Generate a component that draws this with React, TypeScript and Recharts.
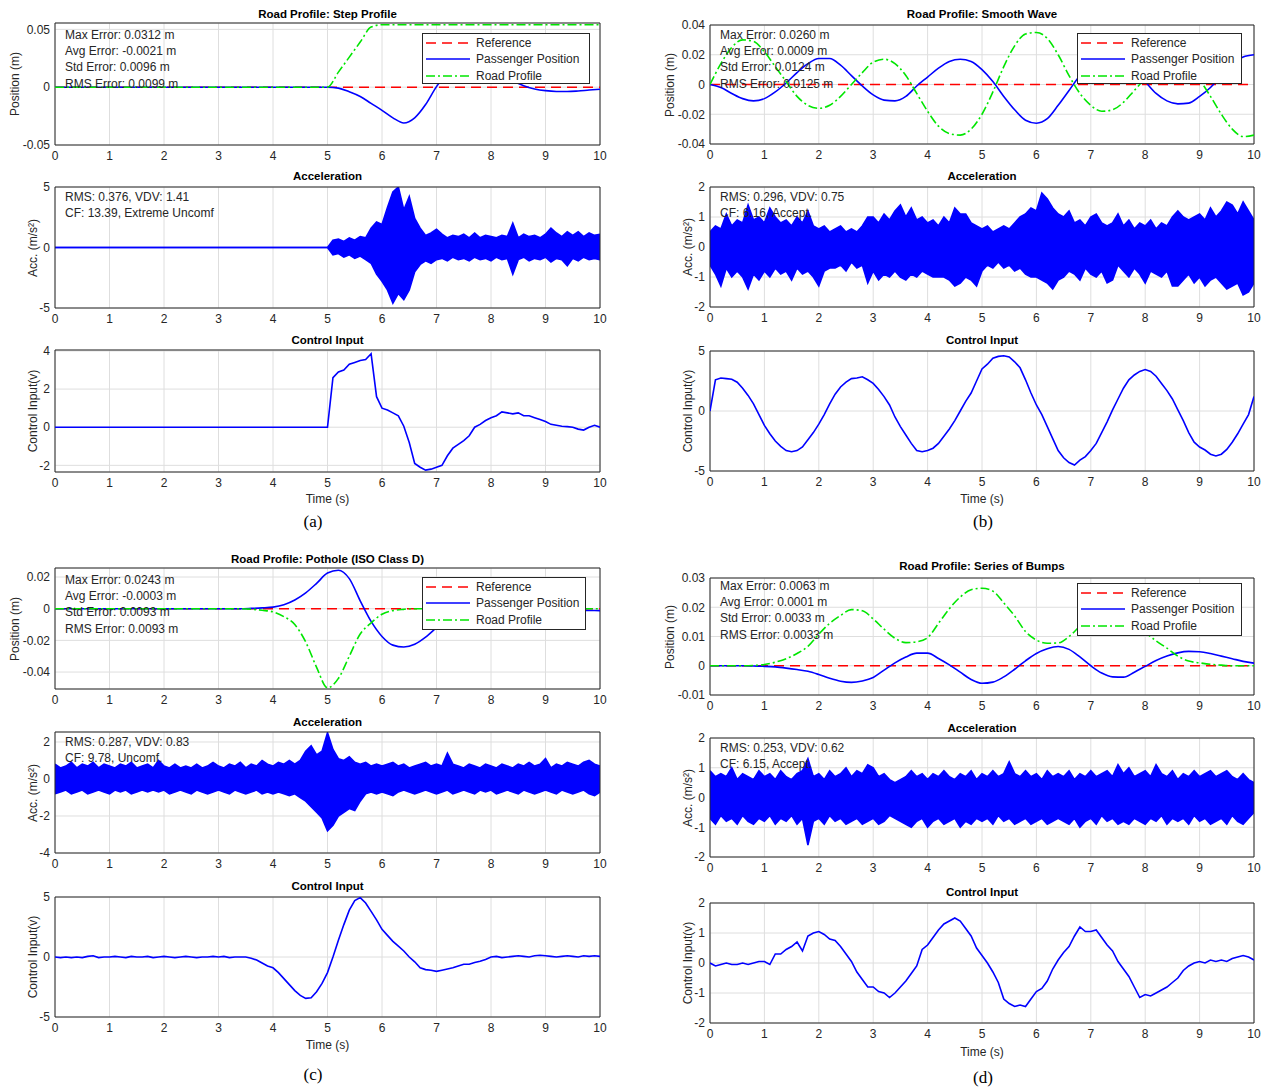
import React from "react";
import { Area, CartesianGrid, ComposedChart, Line, ReferenceArea, XAxis, YAxis } from "recharts";

// sample grids (s)
const TIME_COARSE = Array.from({ length: 51 }, (_, i) => Math.round(i * 20) / 100);
const TIME_FINE = Array.from({ length: 101 }, (_, i) => Math.round(i * 10) / 100);
const X_TICKS = [0, 1, 2, 3, 4, 5, 6, 7, 8, 9, 10];

// reference trajectory (m)
const REF_TIME = [0, 10];
const REF_VALUE = [0, 0];

// ---- road profile / passenger position (m), 0.2 s steps ----
const stepRoad = [
  0, 0, 0, 0, 0, 0, 0, 0, 0, 0,
  0, 0, 0, 0, 0, 0, 0, 0, 0, 0,
  0, 0, 0, 0, 0, 0, 0.013, 0.026, 0.039, 0.052,
  0.054, 0.054, 0.054, 0.054, 0.054, 0.054, 0.054, 0.054, 0.054, 0.054,
  0.054, 0.054, 0.054, 0.054, 0.054, 0.054, 0.054, 0.054, 0.054, 0.054,
  0.054,
];
const stepPassenger = [
  0, 0, 0, 0, 0, 0, 0, 0, 0, 0,
  0, 0, 0, 0, 0, 0, 0, 0, 0, 0,
  0, 0, 0, 0, 0, 0, -0.0008, -0.004, -0.008, -0.014,
  -0.02, -0.0265, -0.031, -0.0265, -0.015, 0.0005, 0.012, 0.019, 0.021, 0.02,
  0.016, 0.011, 0.0055, 0.0012, -0.0015, -0.003, -0.0037, -0.0038, -0.0033, -0.0025,
  -0.0018,
];
const waveRoad = [
  0, 0.014, 0.025, 0.03, 0.029, 0.022, 0.012, 0.002, -0.008, -0.014,
  -0.016, -0.014, -0.008, 0.0, 0.008, 0.015, 0.017, 0.014, 0.006, -0.006,
  -0.018, -0.028, -0.033, -0.034, -0.03, -0.02, -0.005, 0.012, 0.026, 0.034,
  0.035, 0.031, 0.02, 0.006, -0.006, -0.014, -0.018, -0.017, -0.012, -0.004,
  0.004, 0.011, 0.015, 0.015, 0.01, 0.003, -0.008, -0.02, -0.03, -0.035,
  -0.034,
];
const wavePassenger = [
  0, -0.002, -0.006, -0.0095, -0.011, -0.0095, -0.005, 0.001, 0.008, 0.014,
  0.0175, 0.0175, 0.013, 0.006, -0.001, -0.007, -0.0105, -0.011, -0.008, -0.001,
  0.005, 0.011, 0.0155, 0.017, 0.0155, 0.01, 0.002, -0.008, -0.017, -0.024,
  -0.026, -0.023, -0.014, -0.004, 0.006, 0.014, 0.019, 0.02, 0.017, 0.01,
  0.002, -0.006, -0.011, -0.013, -0.0125, -0.008, -0.002, 0.006, 0.013, 0.0185,
  0.02,
];
const potholeRoad = [
  0, 0, 0, 0, 0, 0, 0, 0, 0, 0,
  0, 0, 0, 0, 0, 0, 0, 0, -0.0003, -0.001,
  -0.002, -0.005, -0.01, -0.021, -0.037, -0.05, -0.044, -0.03, -0.016, -0.009,
  -0.0035, -0.0012, -0.0004, 0, 0, 0, 0, 0, 0, 0,
  0, 0, 0, 0, 0, 0, 0, 0, 0, 0,
  0,
];
const potholePassenger = [
  0, 0, 0, 0, 0, 0, 0, 0, 0, 0,
  0, 0, 0, 0, 0, 0, 0, 0, 0.0002, 0.0005,
  0.001, 0.0025, 0.0055, 0.01, 0.016, 0.0225, 0.0243, 0.019, 0.005, -0.008,
  -0.0175, -0.023, -0.0242, -0.0225, -0.018, -0.012, -0.006, -0.001, 0.002, 0.003,
  0.003, 0.0025, 0.0015, 0.0005, 0, -0.0005, -0.0008, -0.001, -0.001, -0.0011,
  -0.0012,
];
const bumpsRoad = [
  0, 0, 0, 0, 0.0001, 0.0004, 0.0012, 0.0024, 0.0042, 0.0066,
  0.0108, 0.0145, 0.0172, 0.0192, 0.0188, 0.016, 0.0125, 0.0094, 0.0079, 0.0082,
  0.0096, 0.0145, 0.0195, 0.0235, 0.026, 0.0265, 0.0255, 0.0215, 0.017, 0.0117,
  0.0088, 0.0077, 0.0078, 0.01, 0.0135, 0.0165, 0.0185, 0.019, 0.018, 0.0155,
  0.0115, 0.0085, 0.006, 0.0033, 0.0016, 0.001, 0.0005, 0.0002, 0, 0,
  0,
];
const bumpsPassenger = [
  0, 0, 0, 0, -0.0001, -0.0002, -0.0004, -0.0008, -0.0013, -0.0019,
  -0.003, -0.0043, -0.0053, -0.0057, -0.0052, -0.004, -0.0015, 0.001, 0.003, 0.0043,
  0.0043, 0.0025, 0.0003, -0.0022, -0.0047, -0.006, -0.0056, -0.0038, -0.0012, 0.0017,
  0.0042, 0.0058, 0.0066, 0.0056, 0.003, 0.0, -0.0025, -0.0038, -0.0039, -0.0022,
  -0.0002, 0.0018, 0.0033, 0.0044, 0.0049, 0.0048, 0.0042, 0.0033, 0.0024, 0.0015,
  0.0009,
];

// ---- acceleration envelope (m/s^2), 0.1 s steps ----
const accStepHi = [
  0, 0, 0, 0, 0, 0, 0, 0, 0, 0,
  0, 0, 0, 0, 0, 0, 0, 0, 0, 0,
  0, 0, 0, 0, 0, 0, 0, 0, 0, 0,
  0, 0, 0, 0, 0, 0, 0, 0, 0, 0,
  0, 0, 0, 0, 0, 0, 0, 0, 0, 0,
  0, 0.6, 0.7, 0.5, 0.8, 0.6, 0.9, 0.8, 1.6, 2.1,
  1.9, 3.3, 4.6, 5.0, 3.1, 4.2, 2.4, 1.6, 1.0, 1.2,
  1.5, 1.1, 0.8, 1.0, 0.9, 1.1, 0.8, 1.2, 0.8, 1.0,
  0.9, 0.8, 1.0, 0.9, 2.0, 0.8, 1.1, 0.9, 1.0, 0.8,
  1.1, 1.6, 1.2, 0.9, 1.3, 1.0, 1.3, 0.9, 1.2, 1.0,
  1.1,
];
const accStepLo = [
  0, 0, 0, 0, 0, 0, 0, 0, 0, 0,
  0, 0, 0, 0, 0, 0, 0, 0, 0, 0,
  0, 0, 0, 0, 0, 0, 0, 0, 0, 0,
  0, 0, 0, 0, 0, 0, 0, 0, 0, 0,
  0, 0, 0, 0, 0, 0, 0, 0, 0, 0,
  0, -0.6, -0.5, -0.8, -0.6, -0.9, -0.7, -1.0, -1.3, -2.2,
  -2.8, -3.5, -4.6, -3.8, -4.3, -3.5, -2.0, -1.4, -1.1, -1.3,
  -1.0, -0.9, -1.1, -0.8, -1.0, -0.9, -1.1, -0.8, -1.0, -0.9,
  -1.1, -0.8, -1.0, -0.9, -2.2, -1.0, -0.8, -1.1, -0.9, -1.0,
  -0.8, -1.2, -0.9, -1.0, -1.5, -0.9, -1.1, -0.8, -1.0, -0.9,
  -1.0,
];
const accWaveHi = [
  0.5, 0.7, 0.6, 1.1, 0.7, 0.9, 0.8, 1.4, 0.9, 1.0,
  0.8, 1.3, 1.0, 0.8, 0.9, 0.7, 1.0, 0.8, 1.2, 0.7,
  0.6, 0.7, 0.5, 0.6, 0.7, 0.5, 0.6, 0.5, 0.7, 1.0,
  1.0, 0.8, 1.1, 0.9, 1.2, 1.4, 1.0, 1.3, 0.9, 1.0,
  0.8, 0.9, 0.7, 1.0, 0.8, 1.3, 1.1, 1.1, 0.8, 0.7,
  0.6, 0.7, 0.5, 0.6, 0.7, 0.6, 0.8, 1.0, 1.1, 1.3,
  1.2, 1.8, 1.6, 1.3, 1.1, 1.0, 1.2, 0.8, 0.9, 0.7,
  1.0, 1.1, 0.8, 0.7, 0.8, 1.1, 0.7, 0.9, 0.6, 0.8,
  0.7, 0.9, 0.6, 0.8, 0.7, 1.0, 1.2, 1.0, 0.9, 1.0,
  1.1, 0.9, 1.3, 1.0, 1.2, 1.5, 1.4, 1.1, 1.5, 1.2,
  0.9,
];
const accWaveLo = [
  -0.6, -0.9, -1.3, -0.7, -1.0, -0.8, -1.0, -1.4, -0.9, -1.1,
  -0.8, -1.0, -0.7, -0.9, -0.8, -1.1, -0.7, -0.9, -0.8, -1.0,
  -1.3, -0.8, -0.7, -0.7, -0.6, -0.8, -0.5, -0.7, -0.6, -1.2,
  -0.8, -1.1, -0.9, -1.0, -0.8, -1.0, -1.1, -0.9, -1.0, -0.8,
  -0.9, -1.0, -1.0, -1.0, -1.1, -1.3, -1.2, -1.0, -1.1, -1.3,
  -0.8, -0.6, -0.7, -0.5, -0.7, -0.6, -0.8, -0.7, -0.9, -1.0,
  -1.0, -1.1, -1.2, -1.4, -1.1, -1.0, -0.8, -0.9, -1.1, -0.7,
  -0.9, -1.0, -0.8, -1.2, -1.1, -0.6, -0.8, -1.0, -0.7, -0.9,
  -1.2, -0.8, -0.9, -1.0, -0.8, -1.3, -1.3, -1.1, -0.9, -1.2,
  -1.0, -1.3, -1.1, -1.0, -1.2, -1.4, -1.3, -1.2, -1.6, -1.5,
  -1.2,
];
const accPotholeHi = [
  0.8, 0.6, 0.7, 0.9, 0.6, 0.8, 0.7, 0.9, 0.6, 0.8,
  0.7, 0.6, 0.8, 0.7, 0.9, 0.6, 0.7, 0.8, 0.6, 1.0,
  0.7, 0.6, 0.8, 0.6, 0.7, 0.6, 0.8, 0.6, 0.7, 0.9,
  0.7, 0.6, 0.8, 0.7, 0.9, 0.6, 0.8, 0.7, 1.0, 0.8,
  0.7, 0.9, 0.8, 1.0, 0.8, 1.0, 1.5, 1.8, 1.3, 1.5,
  2.5, 1.6, 1.1, 1.0, 1.2, 0.9, 0.8, 0.9, 0.7, 0.8,
  0.7, 0.8, 0.9, 0.7, 0.8, 0.6, 0.7, 0.8, 0.9, 0.7,
  0.8, 0.7, 1.4, 0.8, 0.7, 0.6, 0.8, 0.7, 0.6, 0.8,
  0.7, 0.6, 0.8, 0.7, 0.6, 0.8, 0.7, 0.9, 0.7, 0.8,
  1.1, 0.6, 0.8, 0.7, 0.9, 0.8, 0.7, 0.9, 1.0, 0.8,
  0.7,
];
const accPotholeLo = [
  -0.8, -0.7, -0.6, -0.8, -0.7, -0.6, -0.8, -0.7, -0.6, -0.7,
  -0.8, -0.6, -0.7, -0.6, -0.8, -0.7, -0.6, -0.7, -0.6, -0.7,
  -0.6, -0.8, -0.7, -0.6, -0.7, -0.8, -0.6, -0.7, -0.8, -0.7,
  -0.6, -0.7, -0.8, -0.6, -0.7, -0.8, -0.7, -0.6, -0.8, -0.7,
  -0.8, -0.7, -0.8, -0.9, -0.8, -1.0, -1.2, -1.5, -1.8, -2.1,
  -2.8, -2.5, -2.0, -1.8, -1.6, -1.7, -1.2, -0.8, -0.7, -0.8,
  -0.7, -0.8, -0.9, -0.7, -0.6, -0.7, -0.8, -0.7, -0.6, -0.7,
  -0.8, -0.7, -0.6, -0.8, -0.7, -0.6, -0.7, -0.8, -0.6, -0.7,
  -0.6, -0.8, -0.7, -0.6, -0.7, -0.8, -0.6, -0.7, -0.8, -0.7,
  -0.6, -0.7, -0.8, -0.6, -0.7, -0.8, -0.7, -0.6, -0.8, -0.9,
  -0.7,
];
const accBumpsHi = [
  0.9, 0.7, 0.8, 0.7, 1.0, 0.6, 0.8, 0.7, 0.6, 0.9,
  0.7, 0.8, 0.6, 0.9, 0.7, 0.6, 0.8, 0.9, 1.3, 0.7,
  0.8, 0.6, 0.9, 0.7, 0.8, 1.0, 0.7, 0.9, 0.8, 1.1,
  1.0, 0.7, 0.8, 0.6, 0.5, 0.6, 0.7, 0.9, 0.7, 0.8,
  0.6, 0.8, 0.7, 0.9, 0.7, 0.6, 0.8, 0.7, 0.9, 0.6,
  0.8, 0.7, 0.9, 0.7, 0.8, 1.2, 0.8, 0.7, 0.9, 0.7,
  0.8, 0.6, 0.9, 0.7, 0.8, 0.7, 0.9, 0.6, 0.8, 0.7,
  0.9, 0.7, 0.8, 0.9, 0.7, 1.1, 0.8, 1.0, 0.7, 0.8,
  0.9, 0.7, 1.1, 0.8, 0.7, 0.9, 0.6, 0.8, 0.7, 0.9,
  0.7, 0.8, 0.9, 0.7, 0.8, 0.9, 0.7, 0.6, 0.8, 0.6,
  0.5,
];
const accBumpsLo = [
  -0.7, -0.9, -0.6, -0.8, -0.7, -0.9, -0.6, -0.8, -0.9, -0.7,
  -0.8, -0.6, -0.9, -0.7, -0.8, -0.6, -0.9, -0.7, -1.6, -0.8,
  -0.7, -0.9, -0.6, -0.8, -0.7, -0.9, -0.8, -0.7, -0.9, -0.8,
  -0.7, -0.9, -0.8, -0.6, -0.7, -0.8, -0.9, -1.0, -0.8, -0.7,
  -1.0, -0.8, -0.7, -0.9, -0.8, -0.7, -1.0, -0.8, -0.9, -0.7,
  -0.8, -0.7, -0.9, -0.6, -0.8, -0.7, -0.9, -0.8, -0.7, -0.9,
  -0.8, -0.7, -0.9, -0.8, -0.7, -0.8, -0.9, -0.7, -1.0, -0.8,
  -0.7, -0.9, -0.6, -0.8, -0.7, -0.9, -0.8, -0.9, -0.7, -0.8,
  -0.9, -0.7, -0.8, -0.6, -0.9, -0.7, -0.8, -0.7, -0.9, -0.6,
  -0.8, -0.7, -0.9, -0.8, -0.7, -0.9, -0.6, -0.8, -0.9, -0.7,
  -0.5,
];

// ---- control input (V), 0.1 s steps ----
const ctrlStep = [
  0, 0, 0, 0, 0, 0, 0, 0, 0, 0,
  0, 0, 0, 0, 0, 0, 0, 0, 0, 0,
  0, 0, 0, 0, 0, 0, 0, 0, 0, 0,
  0, 0, 0, 0, 0, 0, 0, 0, 0, 0,
  0, 0, 0, 0, 0, 0, 0, 0, 0, 0,
  0, 2.6, 2.9, 3.0, 3.3, 3.4, 3.5, 3.55, 3.85, 1.6,
  1.0, 0.9, 0.75, 0.6, 0.05, -0.8, -1.9, -2.1, -2.25, -2.2,
  -2.1, -2.0, -1.5, -1.1, -0.9, -0.7, -0.45, 0.0, 0.15, 0.35,
  0.5, 0.6, 0.8, 0.75, 0.7, 0.75, 0.6, 0.6, 0.5, 0.4,
  0.3, 0.15, 0.1, 0.05, 0.03, 0.0, -0.1, -0.15, 0.0, 0.1,
  0.0,
];
const ctrlWave = [
  0.0, 2.6, 2.75, 2.7, 2.65, 2.4, 1.9, 1.3, 0.6, -0.3,
  -1.2, -1.9, -2.5, -2.95, -3.3, -3.4, -3.3, -3.0, -2.4, -1.8,
  -1.1, -0.3, 0.6, 1.4, 2.0, 2.4, 2.7, 2.75, 2.85, 2.6,
  2.3, 1.8, 1.2, 0.5, -0.5, -1.3, -2.0, -2.7, -3.3, -3.4,
  -3.3, -3.1, -2.7, -2.1, -1.5, -0.8, 0.0, 0.8, 1.5, 2.5,
  3.5, 3.9, 4.4, 4.55, 4.6, 4.5, 4.1, 3.6, 2.6, 1.5,
  0.5, -0.3, -1.3, -2.3, -3.3, -3.9, -4.3, -4.5, -4.1, -3.8,
  -3.3, -2.7, -1.8, -0.9, 0.1, 1.0, 1.9, 2.6, 3.0, 3.3,
  3.45, 3.3, 2.9, 2.3, 1.7, 1.0, 0.1, -0.8, -1.8, -2.6,
  -3.0, -3.25, -3.6, -3.75, -3.6, -3.2, -2.6, -1.9, -1.1, -0.3,
  1.2,
];
const ctrlPothole = [
  0.0, -0.05, 0.0, -0.05, 0.0, -0.05, 0.05, 0.1, -0.05, 0.0,
  0.0, 0.05, 0.0, -0.05, 0.05, 0.0, 0.0, 0.05, -0.05, 0.0,
  0.05, 0.0, -0.05, 0.0, 0.05, 0.0, -0.05, 0.0, 0.0, 0.05,
  0.0, 0.05, -0.05, 0.0, 0.0, 0.0, -0.1, -0.25, -0.5, -0.75,
  -0.9, -1.3, -1.8, -2.3, -2.8, -3.2, -3.45, -3.4, -2.9, -2.2,
  -1.3, 0.0, 1.4, 2.7, 3.9, 4.7, 4.95, 4.5, 3.8, 3.1,
  2.3, 1.8, 1.3, 0.9, 0.5, 0.0, -0.4, -0.9, -1.05, -1.1,
  -1.2, -1.1, -1.0, -0.9, -0.75, -0.6, -0.6, -0.45, -0.35, -0.2,
  0.0, 0.05, -0.05, 0.0, 0.05, 0.1, 0.05, 0.0, 0.1, 0.15,
  0.1, 0.05, 0.0, 0.05, 0.1, 0.05, 0.0, 0.1, 0.05, 0.1,
  0.05,
];
const ctrlBumps = [
  0.0, -0.1, -0.05, 0.0, -0.05, -0.05, 0.0, -0.05, 0.0, 0.05,
  0.05, -0.05, 0.3, 0.3, 0.45, 0.55, 0.7, 0.4, 0.9, 1.0,
  1.05, 0.95, 0.8, 0.75, 0.55, 0.3, 0.05, -0.3, -0.55, -0.8,
  -0.8, -0.95, -1.0, -1.15, -1.0, -0.8, -0.6, -0.35, -0.1, 0.45,
  0.6, 0.85, 1.1, 1.3, 1.4, 1.5, 1.4, 1.15, 0.9, 0.5,
  0.25, 0.0, -0.3, -0.65, -1.2, -1.35, -1.45, -1.4, -1.45, -1.2,
  -0.95, -0.85, -0.6, -0.2, 0.1, 0.35, 0.55, 0.9, 1.2, 1.05,
  1.05, 1.1, 0.85, 0.6, 0.4, 0.05, -0.2, -0.45, -0.8, -1.15,
  -1.05, -1.1, -1.0, -0.9, -0.8, -0.65, -0.5, -0.25, -0.1, 0.0,
  0.05, 0.0, 0.1, 0.05, 0.1, 0.05, 0.15, 0.2, 0.25, 0.2,
  0.1,
];

const FONT = '"Liberation Sans", Arial, Helvetica, sans-serif';
const INK = "#262626";
const BLUE = "#0000ff";
const RED = "#ff0000";
const GREEN = "#00e600";
const SERIES = [
  { name: "Reference", color: RED, dash: "10 6" },
  { name: "Passenger Position", color: BLUE, dash: undefined },
  { name: "Road Profile", color: GREEN, dash: "9 3 2 3" },
];

const REF_DATA = REF_TIME.map((t, i) => ({ t, v: REF_VALUE[i] }));
const posRows = (road: number[], pass: number[]) => TIME_COARSE.map((t, i) => ({ t, road: road[i], pass: pass[i] }));
const accRows = (lo: number[], hi: number[]) => TIME_FINE.map((t, i) => ({ t, band: [lo[i], hi[i]] }));
const ctrlRows = (u: number[]) => TIME_FINE.map((t, i) => ({ t, u: u[i] }));

const PAD_L = 60;
const PAD_R = 10;
const PAD_T = 10;
const PAD_B = 30;
const Y_W = 50;
const TICK = { fontSize: 12, fill: INK, fontFamily: FONT };

type PlotProps = {
  x0: number; x1: number; y0: number; y1: number;
  domain: [number, number]; ticks: number[]; data: any[]; children: React.ReactNode;
};

function Plot({ x0, x1, y0, y1, domain, ticks, data, children }: PlotProps) {
  return (
    <div style={{ position: "absolute", left: x0 - PAD_L, top: y0 - PAD_T }}>
      <ComposedChart
        width={x1 - x0 + PAD_L + PAD_R}
        height={y1 - y0 + PAD_T + PAD_B}
        data={data}
        margin={{ top: PAD_T, right: PAD_R, bottom: 0, left: PAD_L - Y_W }}
      >
        <CartesianGrid stroke="#dedede" />
        <XAxis dataKey="t" type="number" domain={[0, 10]} ticks={X_TICKS} interval={0} allowDataOverflow
          axisLine={false} tickLine={false} tickSize={4} tickMargin={2} height={PAD_B} tick={TICK} />
        <YAxis type="number" domain={domain} ticks={ticks} interval={0} allowDataOverflow
          axisLine={false} tickLine={false} tickSize={3} tickMargin={2} width={Y_W} tick={TICK} />
        {children}
        <ReferenceArea x1={0} x2={10} y1={domain[0]} y2={domain[1]} fill="none" fillOpacity={0} stroke={INK} strokeWidth={1} />
      </ComposedChart>
    </div>
  );
}

function Txt({ x, y, children, style }: { x: number; y: number; children: React.ReactNode; style?: React.CSSProperties }) {
  return <div style={{ position: "absolute", left: x, top: y, whiteSpace: "nowrap", ...style }}>{children}</div>;
}

function Title({ cx, cy, text }: { cx: number; cy: number; text: string }) {
  return (
    <div style={{ position: "absolute", left: cx, top: cy, transform: "translate(-50%, -50%)", fontWeight: 700, fontSize: 11.5, color: "#000", whiteSpace: "nowrap" }}>
      {text}
    </div>
  );
}

function YLabel({ cx, cy, text }: { cx: number; cy: number; text: string }) {
  return (
    <div style={{ position: "absolute", left: cx, top: cy, transform: "translate(-50%, -50%) rotate(-90deg)", fontSize: 12, color: INK, whiteSpace: "nowrap" }}>
      {text}
    </div>
  );
}

function LegendBox({ left, top, width, height }: { left: number; top: number; width: number; height: number }) {
  return (
    <div style={{ position: "absolute", left, top, width, height, boxSizing: "border-box", border: `1px solid ${INK}`, background: "#fff" }}>
      {SERIES.map((s, i) => (
        <div key={s.name} style={{ position: "absolute", left: 3, top: 0.5 + i * 16.5, height: 16, display: "flex", alignItems: "center" }}>
          <svg width={44} height={6}>
            <line x1={0} y1={3} x2={44} y2={3} stroke={s.color} strokeWidth={1.6} strokeDasharray={s.dash} />
          </svg>
          <span style={{ marginLeft: 6, fontSize: 12, color: INK }}>{s.name}</span>
        </div>
      ))}
    </div>
  );
}

const PANELS = [
  {
    id: "(a)", x0: 55, x1: 600, labelX: 313, labelY: 522, timeY: 499, yl: [15, 33, 33],
    pos: { y0: 23, y1: 145, titleY: 14, domain: [-0.05, 0.0555] as [number, number], ticks: [-0.05, 0, 0.05],
      title: "Road Profile: Step Profile", road: stepRoad, pass: stepPassenger,
      stats: ["Max Error: 0.0312 m", "Avg Error: -0.0021 m", "Std Error: 0.0096 m", "RMS Error: 0.0099 m"], statsTop: 27,
      legend: { left: 422, top: 33, width: 168, height: 51 } },
    acc: { y0: 187, y1: 308, titleY: 176, domain: [-5, 5] as [number, number], ticks: [-5, 0, 5], lo: accStepLo, hi: accStepHi,
      text: ["RMS: 0.376, VDV: 1.41", "CF: 13.39, Extreme Uncomf"], textTop: 189 },
    ctrl: { y0: 350, y1: 472, titleY: 340, domain: [-2.35, 4.05] as [number, number], ticks: [-2, 0, 2, 4], u: ctrlStep },
  },
  {
    id: "(b)", x0: 710, x1: 1254, labelX: 983, labelY: 522, timeY: 499, yl: [670, 688, 688],
    pos: { y0: 25, y1: 144, titleY: 14, domain: [-0.04, 0.04] as [number, number], ticks: [-0.04, -0.02, 0, 0.02, 0.04],
      title: "Road Profile: Smooth Wave", road: waveRoad, pass: wavePassenger,
      stats: ["Max Error: 0.0260 m", "Avg Error: 0.0009 m", "Std Error: 0.0124 m", "RMS Error: 0.0125 m"], statsTop: 27,
      legend: { left: 1077, top: 33, width: 165, height: 51 } },
    acc: { y0: 187, y1: 307, titleY: 176, domain: [-2, 2] as [number, number], ticks: [-2, -1, 0, 1, 2], lo: accWaveLo, hi: accWaveHi,
      text: ["RMS: 0.296, VDV: 0.75", "CF: 6.16, Accept."], textTop: 189 },
    ctrl: { y0: 351, y1: 471, titleY: 340, domain: [-5, 5] as [number, number], ticks: [-5, 0, 5], u: ctrlWave },
  },
  {
    id: "(c)", x0: 55, x1: 600, labelX: 313, labelY: 1075, timeY: 1045, yl: [15, 33, 33],
    pos: { y0: 568, y1: 689, titleY: 559, domain: [-0.0507, 0.0257] as [number, number], ticks: [-0.04, -0.02, 0, 0.02],
      title: "Road Profile: Pothole (ISO Class D)", road: potholeRoad, pass: potholePassenger,
      stats: ["Max Error: 0.0243 m", "Avg Error: -0.0003 m", "Std Error: 0.0093 m", "RMS Error: 0.0093 m"], statsTop: 572,
      legend: { left: 422, top: 577, width: 164, height: 53 } },
    acc: { y0: 732, y1: 853, titleY: 722, domain: [-4, 2.54] as [number, number], ticks: [-4, -2, 0, 2], lo: accPotholeLo, hi: accPotholeHi,
      text: ["RMS: 0.287, VDV: 0.83", "CF: 9.78, Uncomf."], textTop: 734 },
    ctrl: { y0: 897, y1: 1017, titleY: 886, domain: [-5, 5] as [number, number], ticks: [-5, 0, 5], u: ctrlPothole },
  },
  {
    id: "(d)", x0: 710, x1: 1254, labelX: 983, labelY: 1078, timeY: 1052, yl: [670, 688, 688],
    pos: { y0: 578, y1: 695, titleY: 566, domain: [-0.01, 0.03] as [number, number], ticks: [-0.01, 0, 0.01, 0.02, 0.03],
      title: "Road Profile: Series of Bumps", road: bumpsRoad, pass: bumpsPassenger,
      stats: ["Max Error: 0.0063 m", "Avg Error: 0.0001 m", "Std Error: 0.0033 m", "RMS Error: 0.0033 m"], statsTop: 578,
      legend: { left: 1077, top: 583, width: 165, height: 53 } },
    acc: { y0: 738, y1: 857, titleY: 728, domain: [-2, 2] as [number, number], ticks: [-2, -1, 0, 1, 2], lo: accBumpsLo, hi: accBumpsHi,
      text: ["RMS: 0.253, VDV: 0.62", "CF: 6.15, Accept."], textTop: 740 },
    ctrl: { y0: 903, y1: 1023, titleY: 892, domain: [-2, 2] as [number, number], ticks: [-2, -1, 0, 1, 2], u: ctrlBumps },
  },
];

function Panel({ p }: { p: (typeof PANELS)[number] }) {
  const cx = (p.x0 + p.x1) / 2;
  const { pos, acc, ctrl } = p;
  return (
    <>
      <Title cx={cx} cy={pos.titleY} text={pos.title} />
      <Plot x0={p.x0} x1={p.x1} y0={pos.y0} y1={pos.y1} domain={pos.domain} ticks={pos.ticks} data={posRows(pos.road, pos.pass)}>
        <Line data={REF_DATA} dataKey="v" stroke={RED} strokeWidth={1.6} strokeDasharray="10 6" dot={false} activeDot={false} isAnimationActive={false} />
        <Line dataKey="pass" type="monotone" stroke={BLUE} strokeWidth={1.6} dot={false} activeDot={false} isAnimationActive={false} />
        <Line dataKey="road" type="monotone" stroke={GREEN} strokeWidth={1.6} strokeDasharray="9 3 2 3" dot={false} activeDot={false} isAnimationActive={false} />
      </Plot>
      <YLabel cx={p.yl[0]} cy={(pos.y0 + pos.y1) / 2} text="Position (m)" />
      <Txt x={p.x0 + 10} y={pos.statsTop} style={{ fontSize: 12, lineHeight: "16.2px", color: INK }}>
        {pos.stats.map((s) => <div key={s}>{s}</div>)}
      </Txt>
      <LegendBox {...pos.legend} />

      <Title cx={cx} cy={acc.titleY} text="Acceleration" />
      <Plot x0={p.x0} x1={p.x1} y0={acc.y0} y1={acc.y1} domain={acc.domain} ticks={acc.ticks} data={accRows(acc.lo, acc.hi)}>
        <Area dataKey="band" type="linear" stroke={BLUE} strokeWidth={1.6} fill={BLUE} fillOpacity={1} dot={false} activeDot={false} isAnimationActive={false} />
      </Plot>
      <YLabel cx={p.yl[1]} cy={(acc.y0 + acc.y1) / 2} text="Acc. (m/s²)" />
      <Txt x={p.x0 + 10} y={acc.textTop} style={{ fontSize: 12, lineHeight: "16.4px", color: INK }}>
        {acc.text.map((s) => <div key={s}>{s}</div>)}
      </Txt>

      <Title cx={cx} cy={ctrl.titleY} text="Control Input" />
      <Plot x0={p.x0} x1={p.x1} y0={ctrl.y0} y1={ctrl.y1} domain={ctrl.domain} ticks={ctrl.ticks} data={ctrlRows(ctrl.u)}>
        <Line dataKey="u" type="linear" stroke={BLUE} strokeWidth={1.6} dot={false} activeDot={false} isAnimationActive={false} />
      </Plot>
      <YLabel cx={p.yl[2]} cy={(ctrl.y0 + ctrl.y1) / 2} text="Control Input(v)" />
      <Txt x={cx} y={p.timeY} style={{ transform: "translate(-50%, -50%)", fontSize: 12, color: INK }}>Time (s)</Txt>
      <Txt x={p.labelX} y={p.labelY} style={{ transform: "translate(-50%, -50%)", fontSize: 17, color: "#000", fontFamily: '"Liberation Serif", "Times New Roman", serif' }}>
        {p.id}
      </Txt>
    </>
  );
}

export default function App() {
  return (
    <div style={{ position: "absolute", left: 0, top: 0, width: 1270, height: 1089, background: "#fff", fontFamily: FONT, overflow: "hidden" }}>
      {PANELS.map((p) => <Panel key={p.id} p={p} />)}
    </div>
  );
}
